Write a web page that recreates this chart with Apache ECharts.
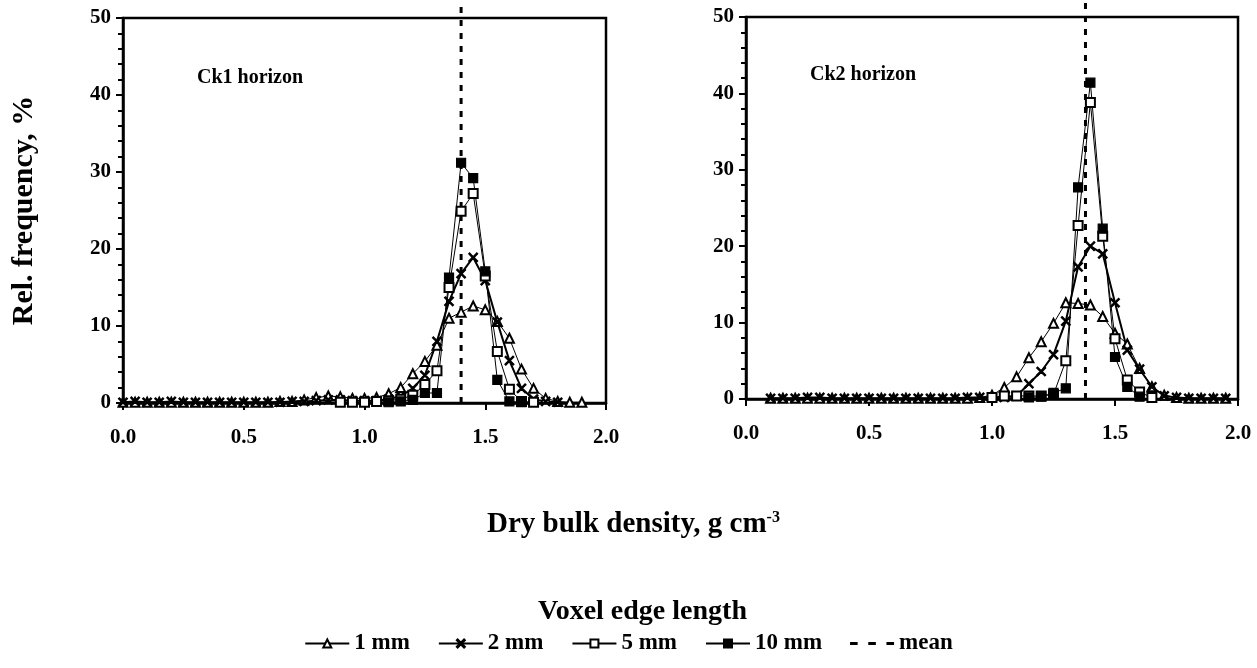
<!DOCTYPE html>
<html><head><meta charset="utf-8">
<script src="https://cdn.jsdelivr.net/npm/echarts@6/dist/echarts.min.js"></script>
<style>html,body{margin:0;padding:0;background:#fff}#c{width:1257px;height:668px}</style>
</head><body><div id="c"></div>
<script>
const bins = [0.00,0.05,0.10,0.15,0.20,0.25,0.30,0.35,0.40,0.45,0.50,0.55,0.60,0.65,0.70,0.75,0.80,0.85,0.90,0.95,1.00,1.05,1.10,1.15,1.20,1.25,1.30,1.35,1.40,1.45,1.50,1.55,1.60,1.65,1.70,1.75,1.80,1.85,1.90,1.95];
const xTicks = ['0.0','0.5','1.0','1.5','2.0'];
const seriesNames = ['1 mm','2 mm','5 mm','10 mm','mean'];
const ck1_1mm = [0.1,0.1,0.1,0.1,0.1,0.1,0.1,0.1,0.1,0.1, 0.1,0.1,0.1,0.2,0.2,0.4,0.7,0.9,0.8,0.6, 0.6,0.7,1.2,2.0,3.8,5.4,7.5,11.0,11.8,12.6, 12.1,10.6,8.4,4.4,1.9,0.6,0.2,0.1,0.1,null];
const ck1_2mm = [0.1,0.2,0.1,0.1,0.2,0.1,0.1,0.1,0.1,0.1, 0.1,0.1,0.1,0.1,0.2,0.2,0.3,0.4,0.4,0.3, 0.3,0.3,0.5,0.9,1.9,3.6,8.0,13.2,16.8,18.9, 15.9,10.5,5.5,1.9,0.5,0.2,0.1,null,null,null];
const ck1_5mm = [null,null,null,null,null,null,null,null,null,null, null,null,null,null,null,null,null,null,0.1,0.1, 0.1,0.2,0.3,0.5,1.0,2.4,4.2,15.0,24.9,27.2, 16.5,6.7,1.8,0.2,0.1,null,null,null,null,null];
const ck1_10mm = [null,null,null,null,null,null,null,null,null,null, null,null,null,null,null,null,null,null,null,null, null,null,0.1,0.2,0.4,1.3,1.3,16.3,31.2,29.2, 17.1,3.0,0.2,0.1,null,null,null,null,null,null];
const ck2_1mm = [null,null,0.1,0.1,0.1,0.1,0.1,0.1,0.1,0.1, 0.1,0.1,0.1,0.1,0.1,0.1,0.1,0.1,0.1,0.2, 0.5,1.5,2.9,5.4,7.5,9.9,12.6,12.5,12.3,10.8, 8.6,7.2,4.0,1.6,0.5,0.2,0.1,0.1,0.1,0.1];
const ck2_2mm = [null,null,0.1,0.1,0.1,0.2,0.2,0.1,0.1,0.1, 0.1,0.1,0.1,0.1,0.1,0.1,0.1,0.1,0.2,0.2, 0.2,0.2,0.4,2.0,3.6,5.8,10.2,17.3,20.0,19.0, 12.6,6.4,3.9,1.6,0.4,0.2,0.1,0.1,0.1,0.1];
const ck2_5mm = [null,null,null,null,null,null,null,null,null,null, null,null,null,null,null,null,null,null,null,null, 0.2,0.4,0.4,0.4,0.4,0.6,5.0,22.7,38.8,21.3, 7.9,2.5,0.9,0.2,null,null,null,null,null,null];
const ck2_10mm = [null,null,null,null,null,null,null,null,null,null, null,null,null,null,null,null,null,null,null,null, null,null,null,0.2,0.3,0.8,1.4,27.7,41.4,22.3, 5.5,1.6,0.3,null,null,null,null,null,null,null];
const meanCk1 = 1.40, meanCk2 = 1.38;
const meanSpanCk1 = [0, 51.5];
const meanSpanCk2 = [0, 52];

const FONT = '"Liberation Serif", "DejaVu Serif", serif';
const pts = v => bins.map((x,i)=>[x, v[i]]).filter(p => p[1] !== null);
const crossPath = 'path://M0,1 L1,0 L5,4 L9,0 L10,1 L6,5 L10,9 L9,10 L5,6 L1,10 L0,9 L4,5 Z';
const dashIcon = 'path://M0,0H5V2H0Z M12,0H17V2H12Z M24,0H29V2H24Z';

function lineSeries(name, data, gi, sym, size, width) {
  return {
    name, type: 'line', xAxisIndex: gi, yAxisIndex: gi, data: pts(data),
    symbol: sym, symbolSize: size, showAllSymbol: true, animation: false,
    lineStyle: {color: '#000', width: width},
    itemStyle: {color: '#000', borderColor: '#000', borderWidth: 1.2},
    z: 3
  };
}
function meanSeries(x, span, gi) {
  return {
    name: 'mean', type: 'line', xAxisIndex: gi, yAxisIndex: gi, clip: false,
    data: span.map(y => [x, y]), symbol: 'none', animation: false,
    lineStyle: {color: '#000', width: 3, type: [6, 7]}, itemStyle: {color: '#000'}, z: 2
  };
}
function xAx(gi) {
  return {
    type: 'value', gridIndex: gi, min: 0, max: 2, interval: 0.5,
    axisLine: {show: true, onZero: false, lineStyle: {color: '#000', width: 2.5}},
    axisTick: {show: true, length: 7, lineStyle: {color: '#000', width: 2}},
    axisLabel: {color: '#000', fontFamily: FONT, fontWeight: 'bold', fontSize: 21, margin: 24,
      formatter: v => xTicks[Math.round(v / 0.5)]},
    splitLine: {show: false}
  };
}
function yAx(gi, withName) {
  const a = {
    type: 'value', gridIndex: gi, min: 0, max: 50, interval: 10,
    axisLine: {show: true, lineStyle: {color: '#000', width: 2.5}},
    axisTick: {show: true, length: 7, lineStyle: {color: '#000', width: 2}},
    minorTick: {show: true, splitNumber: 5, length: 5, lineStyle: {color: '#000', width: 2}},
    axisLabel: {color: '#000', fontFamily: FONT, fontWeight: 'bold', fontSize: 21, margin: 12},
    splitLine: {show: false}
  };
  if (withName) {
    Object.assign(a, {name: 'Rel. frequency, %', nameLocation: 'middle', nameGap: 84, nameRotate: 90,
      nameTextStyle: {color: '#000', fontFamily: FONT, fontWeight: 'bold', fontSize: 30}});
  }
  return a;
}

const chart = echarts.init(document.getElementById('c'));
chart.setOption({
  backgroundColor: '#fff',
  animation: false,
  grid: [
    {left: 123, right: 651, top: 18, bottom: 265, show: true, borderColor: '#000', borderWidth: 2.5, containLabel: false},
    {left: 746, right: 19, top: 17, bottom: 269, show: true, borderColor: '#000', borderWidth: 2.5, containLabel: false}
  ],
  xAxis: [xAx(0), xAx(1)],
  yAxis: [yAx(0, true), yAx(1, false)],
  legend: {
    data: ['1 mm','2 mm','5 mm','10 mm',{name: 'mean', icon: dashIcon, itemStyle: {color: '#000'}}],
    bottom: 8, left: 'center', itemGap: 28, itemWidth: 44, itemHeight: 10,
    textStyle: {color: '#000', fontFamily: FONT, fontWeight: 'bold', fontSize: 23}
  },
  title: [
    {text: 'Voxel edge length', left: 533, top: 593,
     textStyle: {color: '#000', fontFamily: FONT, fontWeight: 'bold', fontSize: 28}}
  ],
  graphic: [
    {type: 'text', left: 487, top: 510, style: {
      text: '{a|Dry bulk density, g cm}{s|-3}',
      rich: {a: {fill: '#000', font: 'bold 29px ' + FONT}, s: {fill: '#000', font: 'bold 16px ' + FONT, verticalAlign: 'top', padding: [0,0,14,0]}}
    }},
    {type: 'text', left: 197, top: 68, style: {text: 'Ck1 horizon', fill: '#000', font: 'bold 20px ' + FONT}},
    {type: 'text', left: 810, top: 65, style: {text: 'Ck2 horizon', fill: '#000', font: 'bold 20px ' + FONT}}
  ],
  series: [
    lineSeries('1 mm', ck1_1mm, 0, 'emptyTriangle', 9, 1),
    lineSeries('2 mm', ck1_2mm, 0, crossPath, 9, 2),
    lineSeries('5 mm', ck1_5mm, 0, 'emptyRect', 9, 1),
    lineSeries('10 mm', ck1_10mm, 0, 'rect', 9, 1),
    meanSeries(meanCk1, meanSpanCk1, 0),
    lineSeries('1 mm', ck2_1mm, 1, 'emptyTriangle', 9, 1),
    lineSeries('2 mm', ck2_2mm, 1, crossPath, 9, 2),
    lineSeries('5 mm', ck2_5mm, 1, 'emptyRect', 9, 1),
    lineSeries('10 mm', ck2_10mm, 1, 'rect', 9, 1),
    meanSeries(meanCk2, meanSpanCk2, 1)
  ]
});
</script>
</body></html>
